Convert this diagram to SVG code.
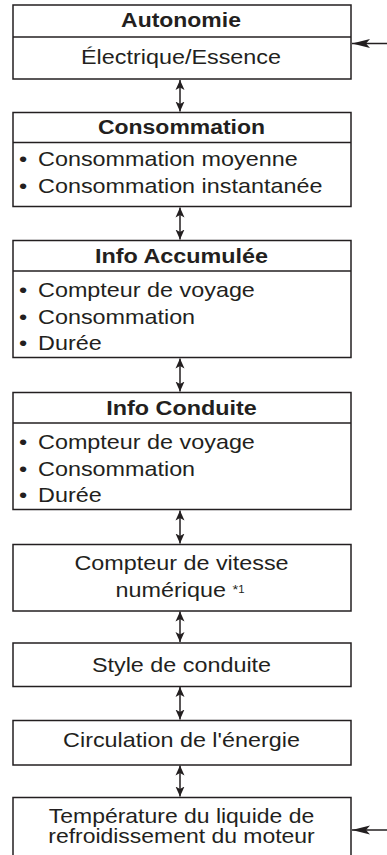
<svg xmlns="http://www.w3.org/2000/svg" width="387" height="855" viewBox="0 0 387 855">
<defs>
<style>
.box{fill:#fff;stroke:#231f20;stroke-width:1.5}
.ln{stroke:#231f20;stroke-width:1.5;fill:none}
.t{font-family:"Liberation Sans",Arial,sans-serif;font-size:20.5px;fill:#231f20}
.c{text-anchor:middle}
.b{font-weight:bold}
.ah{fill:#231f20;stroke:none}
</style>
<marker id="hd" viewBox="0 0 10 10" refX="10" refY="5" markerWidth="10" markerHeight="10" markerUnits="userSpaceOnUse" orient="auto-start-reverse">
<path d="M0,0.5 L10,5 L0,9.5 L2.5,5 Z" class="ah"/>
</marker>
<marker id="hl" viewBox="0 0 18 10" refX="18" refY="5" markerWidth="18" markerHeight="10" markerUnits="userSpaceOnUse" orient="auto">
<path d="M0,0.5 L18,5 L0,9.5 L4,5 Z" class="ah"/>
</marker>
</defs>
<rect width="387" height="855" fill="#fff"/>
<g id="autonomie">
<rect class="box" x="13" y="5" width="338" height="74"/>
<line class="ln" x1="13" y1="37" x2="351" y2="37"/>
<text class="t c b" transform="translate(181 27) scale(1.12 1)">Autonomie</text>
<text class="t c" transform="translate(181 64) scale(1.14 1)">Électrique/Essence</text>
</g>
<g id="consommation">
<rect class="box" x="13" y="112.5" width="338" height="94"/>
<line class="ln" x1="13" y1="142.5" x2="351" y2="142.5"/>
<text class="t c b" transform="translate(181.5 134) scale(1.12 1)">Consommation</text>
<text class="t" transform="translate(19 166) scale(1.14 1)">•<tspan x="16.7">Consommation moyenne</tspan></text>
<text class="t" transform="translate(19 193) scale(1.14 1)">•<tspan x="16.7">Consommation instantanée</tspan></text>
</g>
<g id="info-accumulee">
<rect class="box" x="13" y="240.5" width="338" height="117"/>
<line class="ln" x1="13" y1="271" x2="351" y2="271"/>
<text class="t c b" transform="translate(181.5 263) scale(1.14 1)">Info Accumulée</text>
<text class="t" transform="translate(19 297) scale(1.14 1)">•<tspan x="16.7">Compteur de voyage</tspan></text>
<text class="t" transform="translate(19 323.5) scale(1.14 1)">•<tspan x="16.7">Consommation</tspan></text>
<text class="t" transform="translate(19 350) scale(1.14 1)">•<tspan x="16.7">Durée</tspan></text>
</g>
<g id="info-conduite">
<rect class="box" x="13" y="392.5" width="338" height="117"/>
<line class="ln" x1="13" y1="423" x2="351" y2="423"/>
<text class="t c b" transform="translate(181.5 415) scale(1.14 1)">Info Conduite</text>
<text class="t" transform="translate(19 449) scale(1.14 1)">•<tspan x="16.7">Compteur de voyage</tspan></text>
<text class="t" transform="translate(19 475.5) scale(1.14 1)">•<tspan x="16.7">Consommation</tspan></text>
<text class="t" transform="translate(19 502) scale(1.14 1)">•<tspan x="16.7">Durée</tspan></text>
</g>
<g id="compteur-vitesse">
<rect class="box" x="13" y="544.5" width="338" height="66.5"/>
<text class="t c" transform="translate(181.5 570) scale(1.14 1)">Compteur de vitesse</text>
<text class="t c" transform="translate(180 597) scale(1.14 1)">numérique <tspan font-size="13" dy="-3">*</tspan><tspan font-size="10" dy="-1">1</tspan></text>
</g>
<g id="style-conduite">
<rect class="box" x="13" y="643" width="338" height="43.5"/>
<text class="t c" transform="translate(181.5 672) scale(1.14 1)">Style de conduite</text>
</g>
<g id="circulation-energie">
<rect class="box" x="13" y="720.5" width="338" height="44.5"/>
<text class="t c" transform="translate(181.5 747) scale(1.14 1)">Circulation de l'énergie</text>
</g>
<g id="temperature">
<path class="box" d="M13,860 L13,797.5 L351,797.5 L351,860"/>
<text class="t c" transform="translate(181.5 823) scale(1.12 1)">Température du liquide de</text>
<text class="t c" transform="translate(181.5 843) scale(1.12 1)">refroidissement du moteur</text>
</g>
<g id="connectors">
<line class="ln" x1="180" y1="80" x2="180" y2="111.5" marker-start="url(#hd)" marker-end="url(#hd)"/>
<line class="ln" x1="180" y1="207.5" x2="180" y2="239.5" marker-start="url(#hd)" marker-end="url(#hd)"/>
<line class="ln" x1="180" y1="358.5" x2="180" y2="391.5" marker-start="url(#hd)" marker-end="url(#hd)"/>
<line class="ln" x1="180" y1="510.5" x2="180" y2="543.5" marker-start="url(#hd)" marker-end="url(#hd)"/>
<line class="ln" x1="180" y1="611.5" x2="180" y2="642" marker-start="url(#hd)" marker-end="url(#hd)"/>
<line class="ln" x1="180" y1="687" x2="180" y2="719.5" marker-start="url(#hd)" marker-end="url(#hd)"/>
<line class="ln" x1="180" y1="765.5" x2="180" y2="796.5" marker-start="url(#hd)" marker-end="url(#hd)"/>
<line class="ln" x1="390" y1="43.5" x2="352" y2="43.5" marker-end="url(#hl)"/>
<line class="ln" x1="390" y1="830" x2="352" y2="830" marker-end="url(#hl)"/>
</g>
</svg>
